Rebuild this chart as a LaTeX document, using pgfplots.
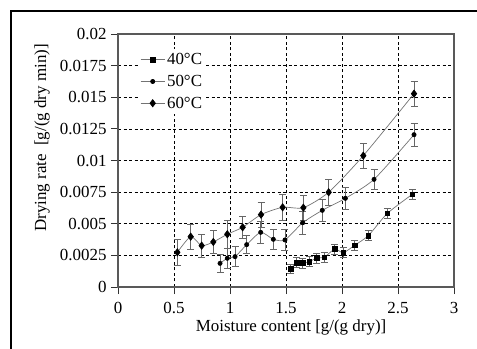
\documentclass[border=0pt]{standalone}
\usepackage{fontspec}
\setmainfont{Liberation Serif}
\usepackage{pgfplots}
\usepackage{pgfplotstable}
\pgfplotsset{compat=1.18}
\pgfplotstableread{
x y e
1.542 0.00145 0.00035
1.595 0.00192 0.0004
1.649 0.00190 0.0004
1.708 0.00200 0.0004
1.774 0.00229 0.0004
1.842 0.00235 0.0004
1.935 0.00300 0.0004
2.012 0.00271 0.0004
2.113 0.00330 0.0004
2.235 0.00406 0.0004
2.405 0.00582 0.0004
2.628 0.00733 0.0004
}\tforty
\pgfplotstableread{
x y e
0.911 0.00187 0.0007
0.976 0.00227 0.0008
1.045 0.00240 0.0008
1.149 0.00335 0.0007
1.274 0.00432 0.0009
1.387 0.00377 0.0008
1.491 0.00372 0.0008
1.649 0.00508 0.0009
1.824 0.00606 0.0009
2.030 0.00701 0.0009
2.286 0.00851 0.0008
2.643 0.01204 0.0009
}\tfifty
\pgfplotstableread{
x y e
0.530 0.00274 0.0010
0.649 0.00398 0.0010
0.747 0.00327 0.0009
0.851 0.00356 0.0009
0.976 0.00417 0.0011
1.113 0.00472 0.0009
1.277 0.00572 0.0010
1.470 0.00630 0.0010
1.655 0.00627 0.0010
1.881 0.00749 0.0010
2.190 0.01038 0.0010
2.643 0.01528 0.0010
}\tsixty
\begin{document}
\begin{tikzpicture}
\useasboundingbox (0,0) rectangle (477bp,349bp);
\draw[line width=2.5bp] (11bp,-5bp) -- (11bp,338bp) -- (482bp,338bp);
\begin{axis}[
  at={(118bp,62bp)}, anchor=south west,
  scale only axis, width=336bp, height=253bp,
  xmin=0, xmax=3, ymin=0, ymax=0.02,
  xtick={0,0.5,1,1.5,2,2.5,3},
  xticklabels={0,0.5,1,1.5,2,2.5,3},
  ytick={0,0.0025,0.005,0.0075,0.01,0.0125,0.015,0.0175,0.02},
  yticklabels={0,0.0025,0.005,0.0075,0.01,0.0125,0.015,0.0175,0.02},
  scaled y ticks=false,
  font=\fontsize{17}{20}\selectfont,
  tick align=outside, major tick length=7bp,
  tick style={black!80, line width=0.8bp},
  xtick pos=bottom, ytick pos=left,
  axis line style={black!65, line width=1.2bp},
  grid=major,
  major grid style={black, line width=0.7bp, dash pattern=on 3bp off 2.5bp},
  xlabel={Moisture content [g/(g dry)]},
  ylabel={Drying rate\ \ [g/(g dry min)]},
  xlabel style={at={(axis description cs:0.515,-0.16)}, anchor=center},
  ylabel style={at={(axis description cs:-0.226,0.589)}, anchor=center},
  xticklabel style={yshift=-5bp},
  yticklabel style={xshift=-1bp},
  legend style={at={(axis description cs:0.06,0.94)}, anchor=north west,
    draw=none, fill=white, inner sep=2bp, row sep=5bp,
    font=\fontsize{17}{20}\selectfont},
  legend cell align=left,
  legend image code/.code={\draw[mark repeat=2,mark phase=2] plot coordinates {(0bp,0bp) (12bp,0bp) (24bp,0bp)};},
  every axis plot/.append style={line width=0.7bp},
]
\addplot[black!55, smooth, tension=0.4, mark=square*, mark size=2.4bp,
  mark options={black, solid},
  error bars/.cd, y dir=both, y explicit,
  error bar style={black!60, line width=0.8bp},
  error mark options={rotate=90, mark size=3.5bp, black!60, line width=0.8bp}]
  table[x=x, y=y, y error=e] {\tforty};
\addlegendentry{40°C}
\addplot[black!55, smooth, tension=0.4, mark=*, mark size=2.1bp,
  mark options={black, solid},
  error bars/.cd, y dir=both, y explicit,
  error bar style={black!60, line width=0.8bp},
  error mark options={rotate=90, mark size=3.5bp, black!60, line width=0.8bp}]
  table[x=x, y=y, y error=e] {\tfifty};
\addlegendentry{50°C}
\addplot[black!55, smooth, tension=0.4, mark=diamond*, mark size=3.6bp,
  mark options={black, solid},
  error bars/.cd, y dir=both, y explicit,
  error bar style={black!60, line width=0.8bp},
  error mark options={rotate=90, mark size=3.5bp, black!60, line width=0.8bp}]
  table[x=x, y=y, y error=e] {\tsixty};
\addlegendentry{60°C}
\end{axis}
\end{tikzpicture}
\end{document}
